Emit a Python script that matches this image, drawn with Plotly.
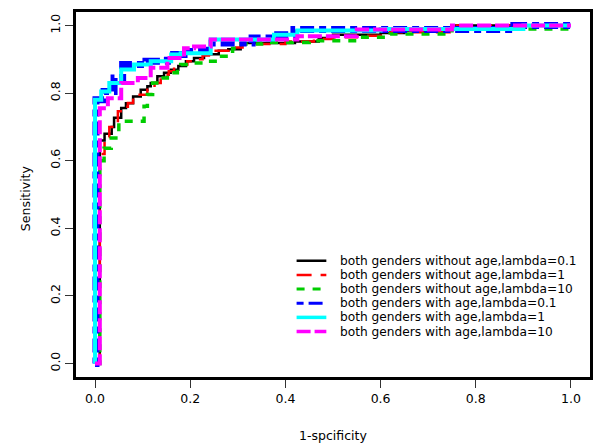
import plotly.graph_objects as go

# ---- data ----
names = [
    "both genders without age,lambda=0.1",
    "both genders without age,lambda=1",
    "both genders without age,lambda=10",
    "both genders with age,lambda=0.1",
    "both genders with age,lambda=1",
    "both genders with age,lambda=10",
]

fpr_noage_01 = [0, 0.01, 0.02, 0.035, 0.04, 0.055, 0.065, 0.08, 0.096, 0.11, 0.117, 0.131, 0.145,
                0.159, 0.175, 0.191, 0.208, 0.229, 0.26, 0.28, 0.306, 0.42, 0.47, 0.5, 0.6, 0.65, 0.75, 1.0]
tpr_noage_01 = [0, 0.66, 0.68, 0.70, 0.727, 0.756, 0.77, 0.79, 0.81, 0.82, 0.83, 0.85, 0.86,
                0.869, 0.88, 0.894, 0.904, 0.915, 0.925, 0.93, 0.948, 0.953, 0.963, 0.973, 0.978, 0.985, 1.0, 1.0]

fpr_noage_1 = [0, 0.01, 0.02, 0.03, 0.048, 0.06, 0.069, 0.08, 0.089, 0.11, 0.125, 0.138, 0.155, 0.166, 0.18,
               0.194, 0.21, 0.226, 0.25, 0.28, 0.31, 0.4, 0.46, 0.5, 0.55, 0.62, 0.76, 1.0]
tpr_noage_1 = [0, 0.62, 0.67, 0.70, 0.746, 0.76, 0.771, 0.785, 0.795, 0.81, 0.83, 0.854, 0.865, 0.879, 0.885,
               0.894, 0.90, 0.911, 0.925, 0.935, 0.945, 0.953, 0.96, 0.965, 0.97, 0.98, 1.0, 1.0]

fpr_noage_10 = [0, 0.01, 0.019, 0.034, 0.05, 0.082, 0.103, 0.11, 0.121, 0.134, 0.152, 0.173, 0.18,
                0.201, 0.236, 0.257, 0.289, 0.3, 0.35, 0.45, 0.55, 0.62, 0.75, 1.0]
tpr_noage_10 = [0, 0.60, 0.637, 0.667, 0.717, 0.717, 0.761, 0.796, 0.83, 0.845, 0.86, 0.864, 0.885,
                0.889, 0.894, 0.909, 0.933, 0.945, 0.95, 0.955, 0.965, 0.975, 0.99, 1.0]

fpr_age_01 = [0, 0.002, 0.019, 0.04, 0.058, 0.107, 0.152, 0.187, 0.236, 0.33, 0.376, 0.418, 0.88, 1.0]
tpr_age_01 = [0, 0.78, 0.805, 0.845, 0.885, 0.894, 0.914, 0.923, 0.948, 0.963, 0.973, 0.988, 1.0, 1.0]

fpr_age_1 = [0, 0.0, 0.013, 0.03, 0.055, 0.082, 0.117, 0.16, 0.18, 0.243, 0.376, 0.425, 0.6, 0.9, 1.0]
tpr_age_1 = [0, 0.78, 0.805, 0.83, 0.87, 0.885, 0.894, 0.914, 0.918, 0.959, 0.973, 0.985, 0.99, 1.0, 1.0]

fpr_age_10 = [0, 0.01, 0.027, 0.055, 0.09, 0.117, 0.152, 0.187, 0.208, 0.243, 0.425, 0.55, 0.75, 1.0]
tpr_age_10 = [0, 0.755, 0.785, 0.83, 0.845, 0.875, 0.904, 0.933, 0.938, 0.959, 0.968, 0.988, 1.0, 1.0]

tick_vals = [0.0, 0.2, 0.4, 0.6, 0.8, 1.0]
tick_text = ["0.0", "0.2", "0.4", "0.6", "0.8", "1.0"]
x_title = "1-spcificity"
y_title = "Sensitivity"

# ---- styles ----
series = [
    (fpr_noage_01, tpr_noage_01, "#000000", 2.5, "solid"),
    (fpr_noage_1, tpr_noage_1, "#FF0000", 2.5, "15px,9px"),
    (fpr_noage_10, tpr_noage_10, "#00CD00", 3.5, "8px,8px"),
    (fpr_age_01, tpr_age_01, "#0000FF", 7, "7px,5px,14px,5px"),
    (fpr_age_1, tpr_age_1, "#00FFFF", 4, "solid"),
    (fpr_age_10, tpr_age_10, "#FF00FF", 4, "14px,4px"),
]
legend_widths = [2.5, 2.5, 3, 3, 3.5, 3.5]

FONT = "DejaVu Sans"

fig = go.Figure()
for (fx, ty, col, w, d), nm in zip(series, names):
    fig.add_trace(go.Scatter(x=fx, y=ty, mode="lines", name=nm, showlegend=False,
                             line=dict(color=col, width=w, dash=d, shape="hv")))

# legend drawn as keys + text inside the plot
leg_x0, leg_x1, leg_tx = 0.4235, 0.486, 0.5136
leg_y0, leg_dy = 0.304, 0.0419
for i, ((fx, ty, col, w, d), nm) in enumerate(zip(series, names)):
    yy = leg_y0 - i * leg_dy
    fig.add_shape(type="line", xref="x", yref="y", x0=leg_x0, x1=leg_x1, y0=yy, y1=yy,
                  line=dict(color=col, width=legend_widths[i], dash=d))
    fig.add_annotation(x=leg_tx, y=yy, xref="x", yref="y", text=nm, showarrow=False,
                       xanchor="left", yanchor="middle", borderpad=0,
                       font=dict(family=FONT, size=12.2, color="#000000"))

# axis titles
fig.add_annotation(x=0.5, y=-0.1616, xref="paper", yref="paper", text=x_title, showarrow=False,
                   xanchor="center", yanchor="middle", borderpad=0,
                   font=dict(family=FONT, size=12.5, color="#000000"))
fig.add_annotation(x=-0.0992, y=0.49, xref="paper", yref="paper", text=y_title, showarrow=False,
                   textangle=-90, xanchor="center", yanchor="middle", borderpad=0,
                   font=dict(family=FONT, size=12.5, color="#000000"))

axis_common = dict(showgrid=False, zeroline=False, showline=True, mirror=True,
                   linecolor="#000000", linewidth=3, ticks="outside", ticklen=8,
                   tickcolor="#333333", tickwidth=1, automargin=False,
                   tickfont=dict(family=FONT, size=12.5, color="#000000"),
                   tickvals=tick_vals, ticktext=tick_text)

fig.update_layout(
    width=602, height=445,
    margin=dict(l=76, r=12, t=12, b=68),
    paper_bgcolor="white", plot_bgcolor="white",
    showlegend=False,
    xaxis=dict(range=[-0.04, 1.04], **axis_common),
    yaxis=dict(range=[-0.04, 1.04], tickangle=-90, **axis_common),
)

fig.write_html("out.html",
               config={"displayModeBar": False, "staticPlot": True},
               post_script="document.body.style.margin='0px';document.body.style.overflow='hidden';")
